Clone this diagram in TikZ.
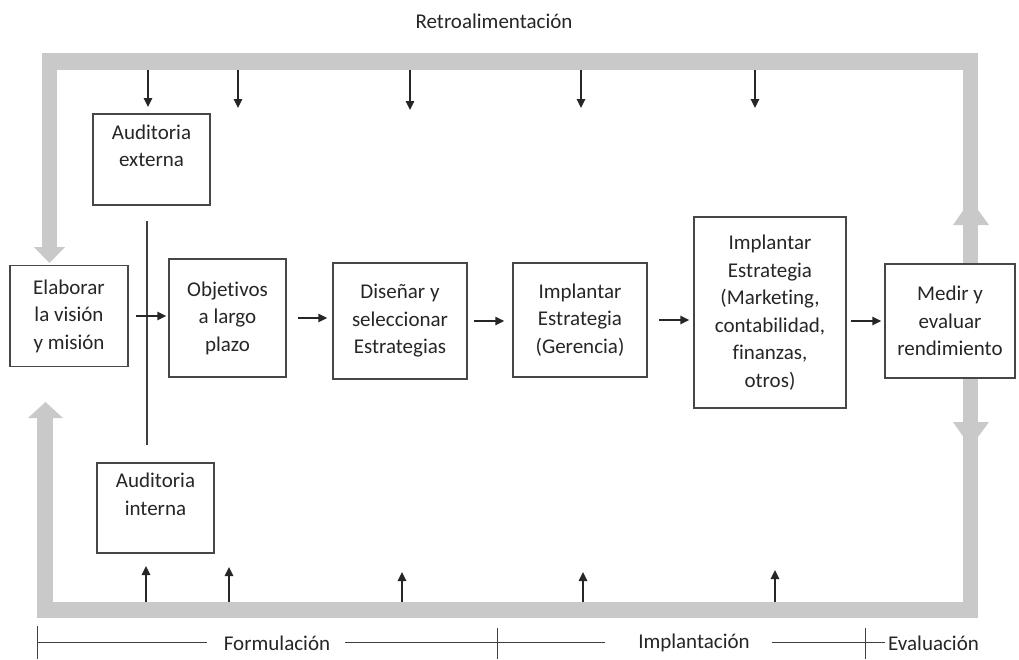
\documentclass[tikz,border=0pt]{standalone}
\usepackage{fontspec}
\setmainfont{Carlito}[Ligatures=NoCommon]
\usetikzlibrary{arrows.meta}
\begin{document}
\begin{tikzpicture}[x=1pt,y=-1pt,
 box/.style={draw=black!72,line width=1.5pt,fill=white,align=center,inner sep=0pt,text=black!85,font=\fontsize{21}{27.5}\selectfont},
 lbl/.style={text=black!85,font=\fontsize{21}{25}\selectfont,inner sep=0pt},
 bar/.style={fill=gray!42},
 arr/.style={line width=1.5pt,draw=black!85,-{Triangle[width=8.5pt,length=9pt]}},
 vline/.style={line width=1.3pt,draw=black!75},
 scl/.style={line width=1pt,draw=black!75}]
\useasboundingbox (0,0) rectangle (1019,659);
\fill[white] (0,0) rectangle (1019,659);
% feedback frame
\path[bar] (42,53) rectangle (978,70);
\path[bar] (42,53) rectangle (57,248);
\path[bar] (34,247) -- (65,247) -- (49.5,263) -- cycle;
\path[bar] (37,417) rectangle (53,618);
\path[bar] (28,418) -- (63,418) -- (45.5,402) -- cycle;
\path[bar] (37,602) rectangle (978,618);
\path[bar] (963,53) rectangle (978,618);
\path[bar] (953,225) -- (989,225) -- (970.5,200) -- cycle;
\path[bar] (953,422) -- (989,422) -- (970.5,447) -- cycle;
% title
\node[lbl] (retro) at (494,21) {Retroalimentación};
% boxes
\node[box,minimum width=117pt,minimum height=91pt] (ext) at (151.5,159.5) {Auditoria\\externa\\~};
\node[box,minimum width=117pt,minimum height=90pt] (int) at (155.5,508) {Auditoria\\interna\\~};
\node[box,minimum width=118pt,minimum height=101pt] (elab) at (69,316) {Elaborar\\la visión\\y misión};
\node[box,minimum width=117pt,minimum height=118pt] (obj) at (227.5,318) {Objetivos\\a largo\\plazo};
\node[box,minimum width=134pt,minimum height=116pt] (dis) at (400,321) {Diseñar y\\seleccionar\\Estrategias};
\node[box,minimum width=134pt,minimum height=114pt] (ger) at (580,320) {Implantar\\Estrategia\\(Gerencia)};
\node[box,minimum width=152pt,minimum height=191pt] (mkt) at (770,312.5) {Implantar\\Estrategia\\(Marketing,\\contabilidad,\\finanzas,\\otros)};
\node[box,minimum width=130pt,minimum height=114pt] (med) at (950,321) {Medir y\\evaluar\\rendimiento};
% audit connector line
\coordinate (la) at (147,221);
\coordinate (lb) at (147,445);
\draw[vline] (la) -- (lb);
% flow arrows
\draw[arr,shorten <=7pt,shorten >=2pt] (elab.east) -- (obj.west |- elab.east);
\draw[arr,shorten <=11pt,shorten >=5pt] (obj.east) -- (dis.west |- obj.east);
\draw[arr,shorten <=6pt,shorten >=8pt] (dis.east) -- (ger.west |- dis.east);
\draw[arr,shorten <=11pt,shorten >=4pt] (ger.east) -- (mkt.west |- ger.east);
\draw[arr,shorten <=4pt,shorten >=3pt] (mkt.east |- med.west) -- (med.west);
% top arrows
\foreach \i/\x/\t in {1/148/107,2/238/108,3/410/110,4/581/108,5/755/108}{
  \coordinate (ts\i) at (\x,70);
  \coordinate (te\i) at (\x,\t);
  \draw[arr] (ts\i) -- (te\i);
}
% bottom arrows
\foreach \i/\x/\t in {1/146/566,2/229/567,3/402/572,4/583/572,5/775/570}{
  \coordinate (bs\i) at (\x,602);
  \coordinate (be\i) at (\x,\t);
  \draw[arr] (bs\i) -- (be\i);
}
% phase scale
\node[lbl] (form) at (277,643) {Formulación};
\node[lbl] (impl) at (694,643) {Implantación};
\node[lbl,anchor=west] (eval) at (888,643) {Evaluación};
\coordinate (h1) at (37,642);
\coordinate (h2) at (207,642);
\coordinate (h3) at (345,642);
\coordinate (h4) at (605,642);
\coordinate (h5) at (772,642);
\coordinate (h6) at (885,642);
\draw[scl] (h1) -- (h2);
\draw[scl] (h3) -- (h4);
\draw[scl] (h5) -- (h6);
\coordinate (v1a) at (37,626); \coordinate (v1b) at (37,659);
\coordinate (v2a) at (497,628); \coordinate (v2b) at (497,659);
\coordinate (v3a) at (865,628); \coordinate (v3b) at (865,659);
\draw[scl] (v1a) -- (v1b);
\draw[scl] (v2a) -- (v2b);
\draw[scl] (v3a) -- (v3b);
\end{tikzpicture}
\end{document}
